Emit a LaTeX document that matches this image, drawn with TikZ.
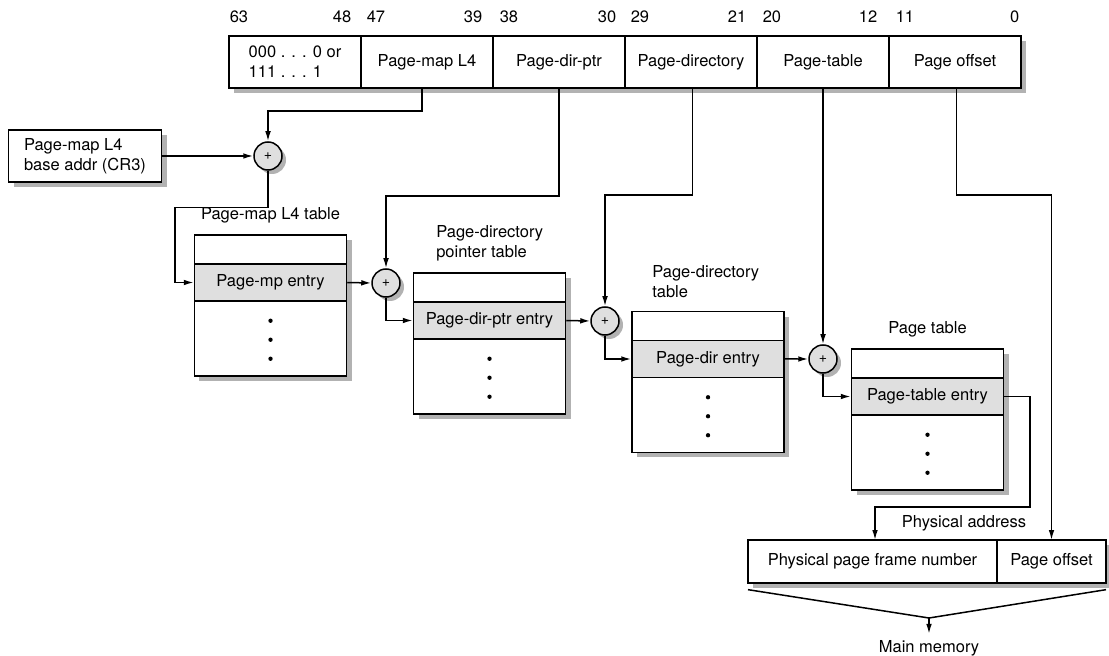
\documentclass[tikz,border=0pt]{standalone}
\usepackage{fontspec}
\setmainfont{TeX Gyre Heros}
\usetikzlibrary{arrows.meta,positioning}
\newcommand\pxu{0.6pt}

\begin{document}
\begin{tikzpicture}[x=0.6pt,y=-0.6pt,line width=0.9pt,font=\fontsize{9.9}{12}\selectfont,
  shadefill/.style={fill=gray!60,draw=none},
  field/.style={draw,fill=white,outer sep=0pt,inner sep=0pt,minimum width=132*\pxu,minimum height=52*\pxu},
  tbl/.style={draw,fill=white,minimum width=152*\pxu,minimum height=141*\pxu},
  entry/.style={draw,fill=gray!25,inner sep=0pt,minimum width=152*\pxu,minimum height=37*\pxu},
  adder/.style={draw,circle,fill=gray!25,inner sep=0pt,minimum size=28*\pxu,font=\fontsize{8.5}{9}\selectfont},
  bit/.style={inner sep=0pt},
  arr/.style={-{Latex[length=6pt,width=3.4pt]}}]
\useasboundingbox (0,0) rectangle (1109,656);
% shadows
\path[shadefill] (234,41) rectangle (1026,93);
\path[shadefill] (13.5,135) rectangle (166.5,187);
\path[shadefill] (199,240) rectangle (352,381);
\path[shadefill] (418.5,278) rectangle (570.5,419);
\path[shadefill] (637,317) rectangle (789,457);
\path[shadefill] (856.5,354) rectangle (1008.5,495);
\path[shadefill] (753,545) rectangle (1111,588);
\path[shadefill] (272,160) circle (8.4pt) (390,287) circle (8.4pt) (609,325) circle (8.4pt) (827,363) circle (8.4pt);
% virtual address
\node[field,align=left] (fSign) at (295,62) {000 . . . 0 or\\111 . . . 1};
\node[field,right=0pt of fSign] (fPML) {Page-map L4};
\node[field,right=0pt of fPML] (fPDP) {Page-dir-ptr};
\node[field,right=0pt of fPDP] (fPD) {Page-directory};
\node[field,right=0pt of fPD] (fPT) {Page-table};
\node[field,right=0pt of fPT] (fOff) {Page offset};
\node[bit,anchor=west] (b63) at (229,17) {63}; \node[bit,anchor=east] (b48) at (352,17) {48};
\node[bit,anchor=west] (b47) at (366,17) {47}; \node[bit,anchor=east] (b39) at (483,17) {39};
\node[bit,anchor=west] (b38) at (499,17) {38}; \node[bit,anchor=east] (b30) at (617,17) {30};
\node[bit,anchor=west] (b29) at (630,17) {29}; \node[bit,anchor=east] (b21) at (747,17) {21};
\node[bit,anchor=west] (b20) at (762,17) {20}; \node[bit,anchor=east] (b12) at (878,17) {12};
\node[bit,anchor=west] (b11) at (895,17) {11}; \node[bit,anchor=east] (b0) at (1020,17) {0};
% base register and adders
\node[draw,fill=white,align=left,minimum width=153*\pxu,minimum height=52*\pxu] (cr3) at (85,156) {Page-map L4\\base addr (CR3)};
\node[adder] (a1) at (268,156) {+};
\node[adder] (a2) at (386,283) {+};
\node[adder] (a3) at (605,321) {+};
\node[adder] (a4) at (823,359) {+};
% tables
\node[tbl] (pml) at (270.5,305.5) {};
\node[entry,below=17.4pt of pml.north] (pmlE) {Page-mp entry};
\node[above=3pt of pml.north] (lPML) {Page-map L4 table};
\node[tbl] (pdp) at (489.5,343.5) {};
\node[entry,below=17.4pt of pdp.north] (pdpE) {Page-dir-ptr entry};
\node[anchor=west,align=left] (lPDP) at (430,243) {Page-directory\\pointer table};
\node[tbl] (pd) at (708,382) {};
\node[entry,below=17.4pt of pd.north] (pdE) {Page-dir entry};
\node[anchor=west,align=left] (lPD) at (646,281.5) {Page-directory\\table};
\node[tbl] (pt) at (927.5,419.5) {};
\node[entry,below=17.4pt of pt.north] (ptE) {Page-table entry};
\node[above=3pt of pt.north] (lPT) {Page table};
\foreach \t in {pmlE,pdpE,pdE,ptE}
  \foreach \k in {1,2,3} \fill ([yshift={-11.4pt*\k}]\t.south) circle (1.3pt);
% physical address
\node[draw,fill=white,outer sep=0pt,minimum width=249*\pxu,minimum height=43*\pxu] (pFrame) at (872.5,561.5) {Physical page frame number};
\node[draw,fill=white,outer sep=0pt,minimum width=109*\pxu,minimum height=43*\pxu,right=0pt of pFrame] (pOff) {Page offset};
\node (pLbl) at (964,523) {Physical address};
\coordinate (tip) at (929,618);
\coordinate (phBend) at (1030,507);
\node (mem) at (929,648) {Main memory};
% connectors
\draw[arr] ([xshift=-3pt]fPML.south) -- ++(0,23) -| (a1.north);
\draw[arr] (cr3.east |- a1.west) -- (a1.west);
\draw[arr] (a1.south) -- ++(0,37) -| ([xshift=-11.4pt]pmlE.west) -- (pmlE.west);
\draw[arr] (pmlE.east) -- (a2.west);
\draw[arr] (fPDP.south) -- ++(0,108) -| (a2.north);
\draw[arr] (a2.south) |- (pdpE.west);
\draw[arr] (pdpE.east) -- (a3.west);
\draw[arr] ([xshift=1pt]fPD.south) -- ++(0,107) -| (a3.north);
\draw[arr] (a3.south) |- (pdE.west);
\draw[arr] (pdE.east) -- (a4.west);
\draw[arr] (fPT.south) -- (a4.north);
\draw[arr] (a4.south) |- (ptE.west);
\draw[arr] (ptE.east) -| (phBend) -| ([xshift=1.5pt]pFrame.north);
\draw[arr] ([xshift=1pt]fOff.south) -- ++(0,107) -| (pOff.north);
\draw ([yshift=-4pt]pFrame.south west) -- (tip) -- ([yshift=-4pt]pOff.south east);
\draw[arr] (tip) -- (mem.north);
\end{tikzpicture}
\end{document}
